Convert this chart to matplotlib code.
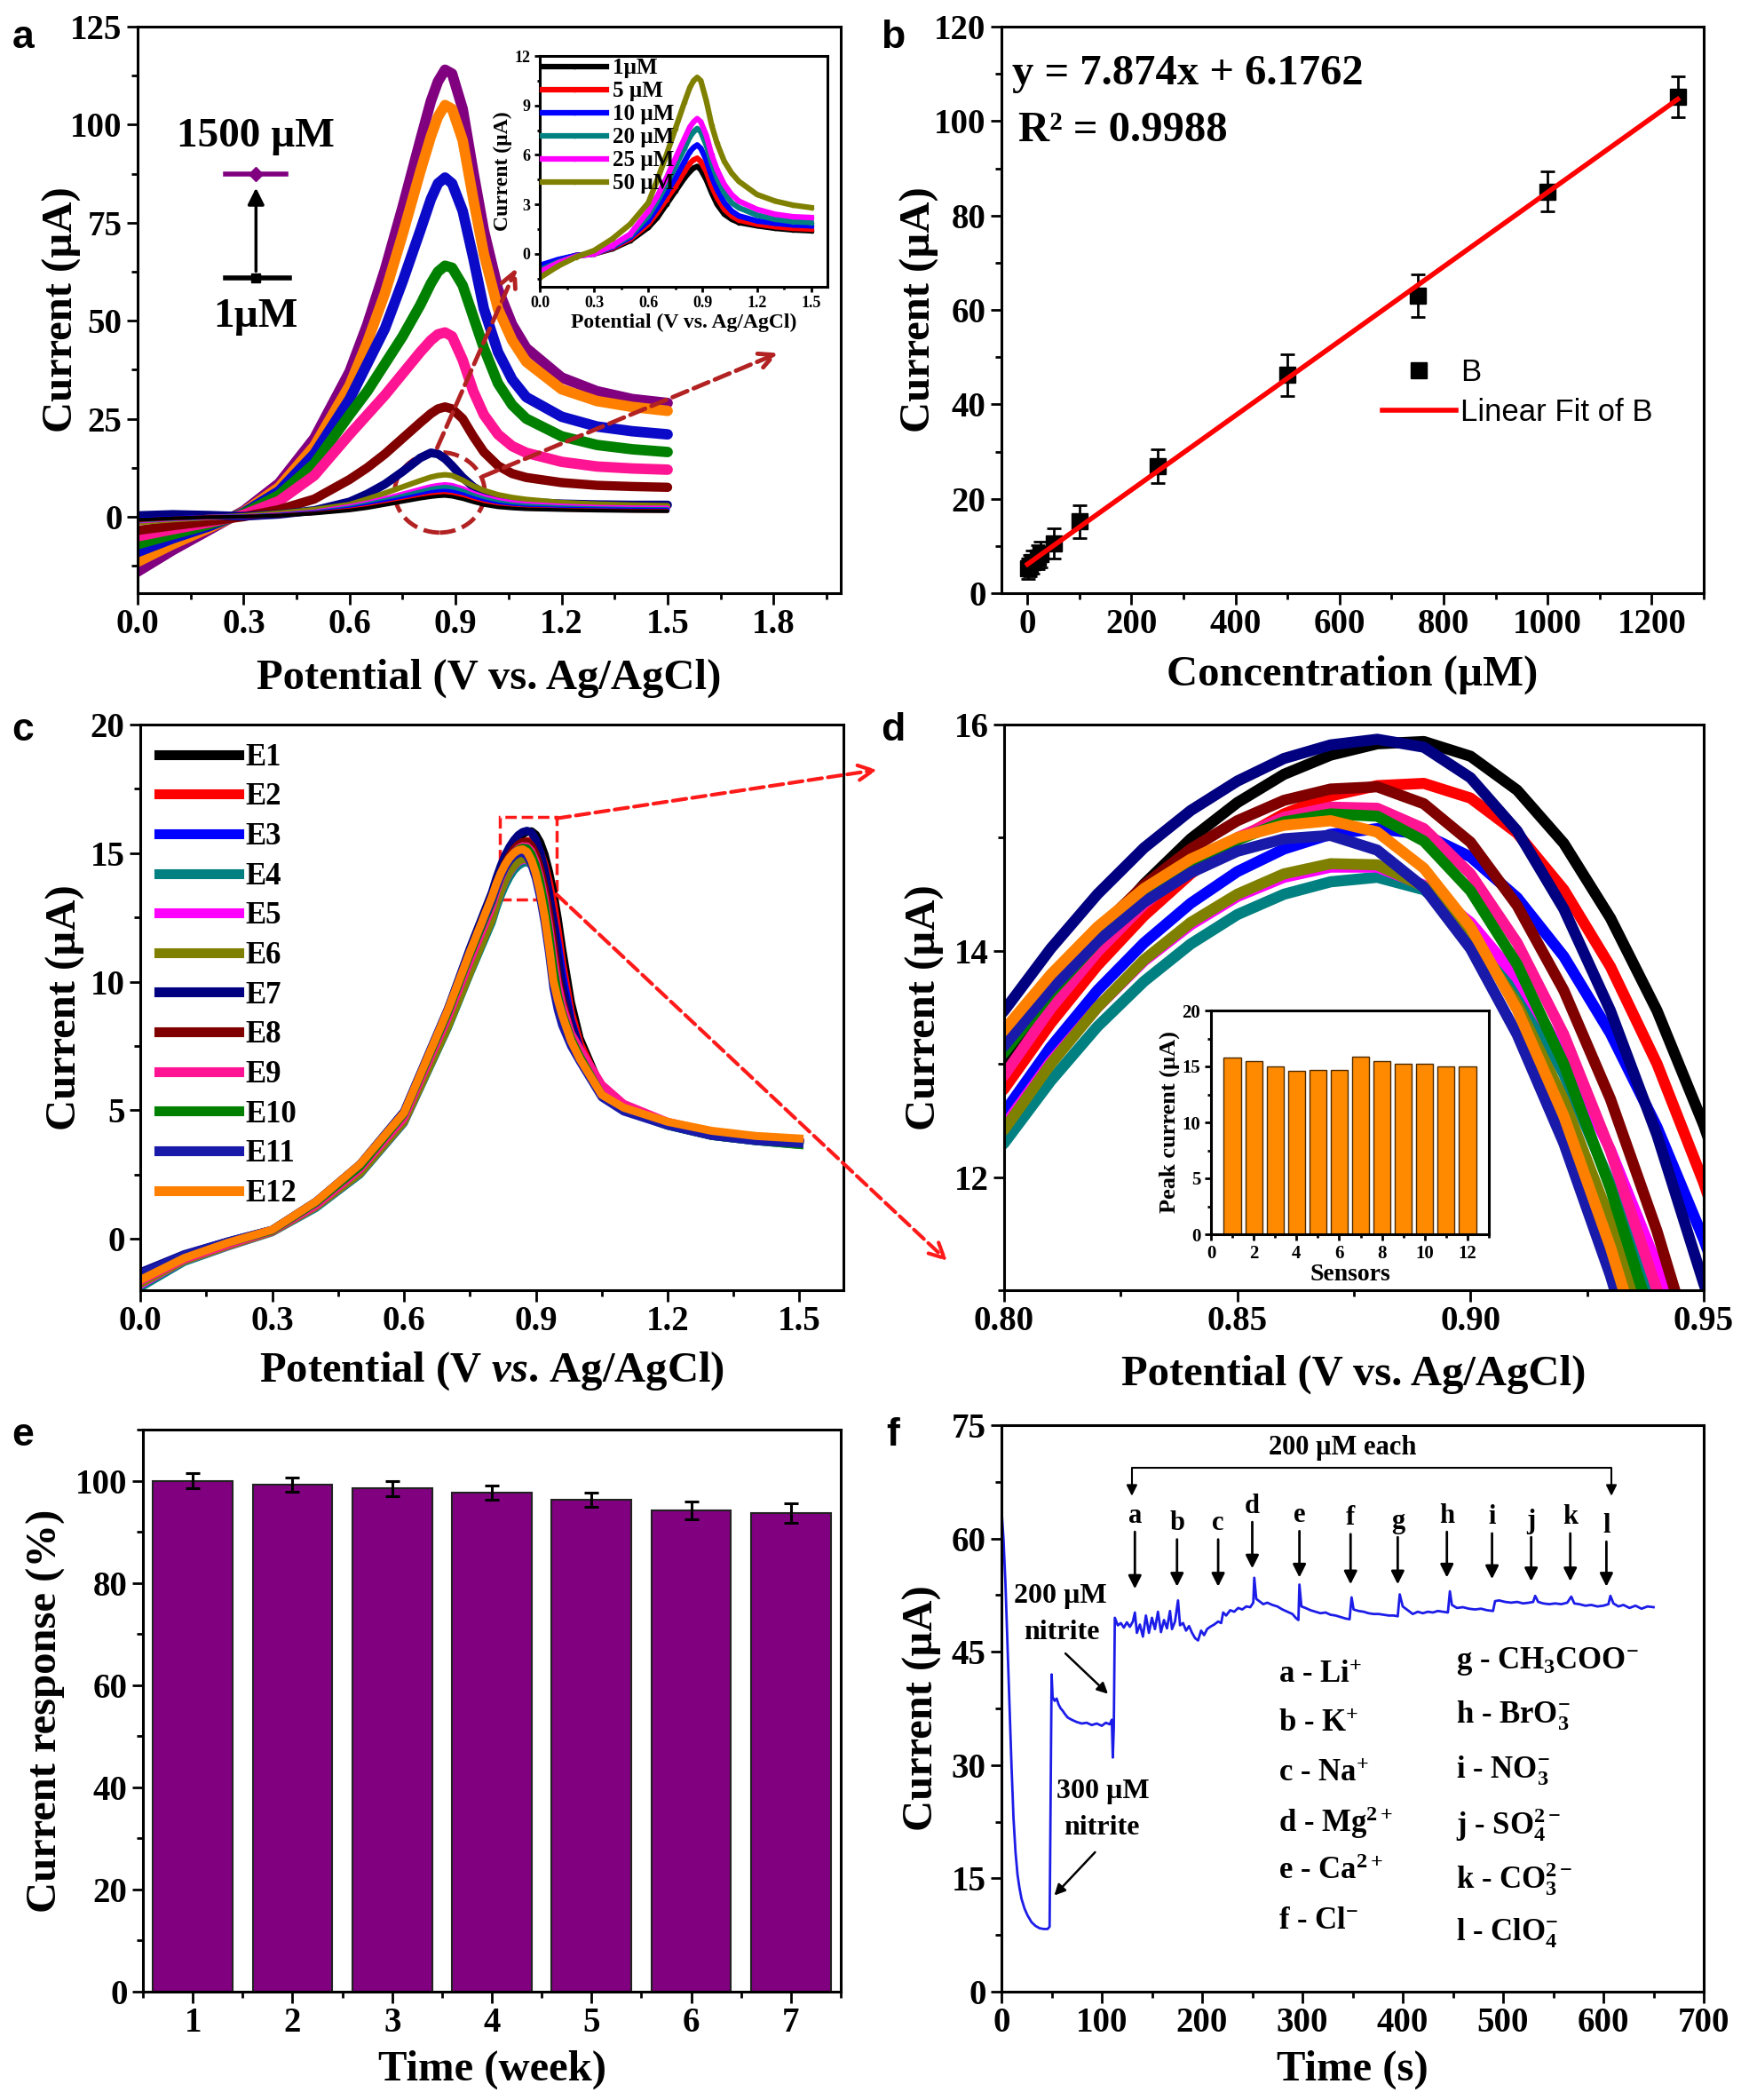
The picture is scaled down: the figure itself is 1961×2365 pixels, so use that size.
import matplotlib
matplotlib.use("Agg")
import matplotlib.pyplot as plt
import numpy as np
from matplotlib.patches import Ellipse, Rectangle, ConnectionPatch
from matplotlib.ticker import MultipleLocator, FormatStrFormatter

plt.rcParams['font.family'] = ['Liberation Serif', 'DejaVu Serif']
plt.rcParams['font.weight'] = 'bold'
plt.rcParams['axes.labelweight'] = 'bold'
plt.rcParams['mathtext.fontset'] = 'custom'
plt.rcParams['mathtext.rm'] = 'Liberation Serif:bold'
plt.rcParams['mathtext.it'] = 'Liberation Serif:bold:italic'
plt.rcParams['mathtext.bf'] = 'Liberation Serif:bold'
plt.rcParams['axes.linewidth'] = 2.2
plt.rcParams['lines.solid_joinstyle'] = 'round'

# ---------------- panel a : DPV at increasing nitrite concentration ----------------
potential_a = [0.0, 0.1, 0.2, 0.3, 0.4, 0.5, 0.6, 0.65, 0.7, 0.75, 0.8, 0.83, 0.85, 0.87,
               0.89, 0.92, 0.95, 0.98, 1.02, 1.06, 1.1, 1.2, 1.3, 1.4, 1.5]
cur_1uM = [-0.8, -0.4, -0.1, 0.0, 0.3, 0.8, 1.6, 2.2, 3.0, 3.8, 4.6, 5.0, 5.2, 5.3, 5.1, 4.5, 3.7, 3.0, 2.4, 2.1, 1.9, 1.7, 1.55, 1.45, 1.4]
cur_5uM = [-0.9, -0.45, -0.1, 0.0, 0.35, 0.9, 1.8, 2.5, 3.3, 4.1, 5.0, 5.5, 5.7, 5.8, 5.6, 5.0, 4.1, 3.4, 2.7, 2.3, 2.05, 1.8, 1.65, 1.55, 1.5]
cur_10uM = [-0.7, -0.35, -0.1, 0.0, 0.4, 1.0, 2.0, 2.8, 3.7, 4.6, 5.6, 6.2, 6.45, 6.6, 6.4, 5.7, 4.7, 3.9, 3.1, 2.6, 2.3, 2.0, 1.85, 1.75, 1.7]
cur_20uM = [-1.0, -0.5, -0.15, 0.0, 0.45, 1.1, 2.3, 3.2, 4.2, 5.3, 6.4, 7.1, 7.4, 7.6, 7.4, 6.6, 5.5, 4.6, 3.7, 3.1, 2.8, 2.35, 2.1, 1.95, 1.9]
cur_25uM = [-1.1, -0.55, -0.15, 0.0, 0.5, 1.2, 2.6, 3.5, 4.6, 5.8, 7.0, 7.7, 8.0, 8.2, 8.0, 7.2, 6.0, 5.1, 4.2, 3.6, 3.2, 2.7, 2.4, 2.25, 2.2]
cur_50uM = [-1.45, -0.75, -0.2, 0.2, 0.9, 1.8, 3.1, 4.5, 6.0, 7.6, 9.2, 10.1, 10.5, 10.7, 10.5, 9.3, 7.8, 6.7, 5.6, 4.9, 4.4, 3.6, 3.2, 2.95, 2.8]
cur_100uM = [0.3, 0.6, 0.4, 0.1, 0.6, 1.6, 3.8, 5.8, 8.3, 11.5, 15.0, 16.3, 16.0, 14.8, 13.0, 10.0, 7.6, 6.0, 4.8, 4.1, 3.7, 3.3, 3.1, 3.0, 3.0]
cur_250uM = [-3.5, -2.3, -1.2, 0.0, 1.8, 4.5, 9.5, 12.5, 16, 20, 24, 26.3, 27.5, 28, 27.5, 25, 20.5, 16.5, 13, 11, 10, 8.7, 8.0, 7.7, 7.5]
cur_500uM = [-5, -3.2, -1.5, 0.5, 4, 10.5, 21, 26, 31, 36.5, 42, 45, 46.5, 47, 46, 40, 32, 26, 21, 18, 16.3, 14, 12.8, 12.3, 12]
cur_750uM = [-7, -4.5, -2, 0.8, 5.5, 13.5, 26, 32, 39, 46, 54, 59.5, 62.5, 64, 63.5, 59, 51, 43, 34, 28.5, 25, 20.5, 18.3, 17.2, 16.5]
cur_1000uM = [-9, -5.5, -2.5, 1.0, 6.5, 16, 30, 39, 48, 60, 73, 81, 85, 86.5, 85, 78, 66, 53, 42, 35, 30.5, 25.5, 23, 21.8, 21]
cur_1250uM = [-11.5, -7, -3, 1.2, 7.5, 18, 33.5, 44.5, 57, 72, 88, 97, 102, 105, 104, 96, 81, 67, 53, 45, 39.5, 32.5, 29.5, 28, 27]
cur_1500uM = [-14, -8.5, -3.5, 1.5, 8.5, 20, 37, 49, 63, 79, 96, 106, 111, 114, 113, 104, 88, 73, 58, 49, 43, 35.5, 32, 30, 29]

inset_labels_a = ['1µM', '5 µM', '10 µM', '20 µM', '25 µM', '50 µM']

# ---------------- panel b : calibration ----------------
conc_b = [1, 5, 10, 20, 25, 50, 100, 250, 500, 750, 1000, 1250]
peak_b = [5.2, 5.8, 6.6, 7.6, 8.2, 10.6, 15.2, 26.9, 46.2, 63.0, 85.1, 105.2]
err_b = [2.2, 2.3, 2.4, 2.6, 2.7, 3.2, 3.5, 3.6, 4.4, 4.5, 4.2, 4.3]

# ---------------- panels c/d : 12 electrodes ----------------
potential_c = [0.0, 0.1, 0.2, 0.3, 0.4, 0.5, 0.6, 0.7, 0.75,
               0.80, 0.81, 0.82, 0.83, 0.84, 0.85, 0.86, 0.87, 0.88, 0.89, 0.90,
               0.91, 0.92, 0.93, 0.94, 0.95, 0.96,
               0.98, 1.0, 1.05, 1.1, 1.2, 1.3, 1.4, 1.5]
cur_E1 = [-1.5, -0.75, -0.2, 0.3, 1.35, 2.75, 4.8, 8.6, 10.8,
          12.95, 13.57, 14.12, 14.59, 14.99, 15.31, 15.56, 15.73, 15.83, 15.85, 15.72, 15.42, 14.95, 14.29, 13.47, 12.46, 11.28,
          9.2, 7.8, 5.8, 5.1, 4.5, 4.1, 3.9, 3.75]
cur_E2 = [-1.6, -0.8, -0.22, 0.3, 1.3, 2.7, 4.75, 8.55, 10.7,
          12.78, 13.36, 13.87, 14.31, 14.68, 14.98, 15.21, 15.37, 15.46, 15.48, 15.35, 15.04, 14.54, 13.86, 13.00, 11.95, 10.72,
          8.8, 7.6, 5.8, 5.1, 4.5, 4.1, 3.9, 3.75]
cur_E3 = [-1.7, -0.85, -0.25, 0.28, 1.25, 2.6, 4.65, 8.4, 10.5,
          12.57, 13.15, 13.65, 14.07, 14.42, 14.70, 14.90, 15.03, 15.08, 15.03, 14.83, 14.47, 13.95, 13.27, 12.44, 11.45, 10.30,
          8.5, 7.4, 5.7, 5.0, 4.45, 4.05, 3.85, 3.7]
cur_E4 = [-1.9, -0.9, -0.3, 0.25, 1.2, 2.5, 4.5, 8.2, 10.3,
          12.30, 12.85, 13.33, 13.73, 14.06, 14.32, 14.50, 14.61, 14.65, 14.54, 14.22, 13.67, 12.91, 11.94, 10.74, 9.6, 8.8,
          7.8, 7.1, 5.6, 5.0, 4.4, 4.0, 3.8, 3.65]
cur_E5 = [-1.8, -0.85, -0.28, 0.27, 1.25, 2.55, 4.55, 8.3, 10.4,
          12.45, 13.02, 13.50, 13.91, 14.23, 14.48, 14.65, 14.74, 14.74, 14.58, 14.25, 13.76, 13.08, 12.24, 11.22, 10.04, 9.1,
          8.0, 7.3, 5.9, 5.2, 4.5, 4.1, 3.9, 3.75]
cur_E6 = [-1.75, -0.85, -0.27, 0.27, 1.25, 2.55, 4.55, 8.25, 10.35,
          12.42, 13.00, 13.50, 13.92, 14.25, 14.50, 14.68, 14.77, 14.76, 14.57, 14.15, 13.53, 12.68, 11.61, 10.33, 9.4, 8.7,
          7.7, 7.0, 5.6, 5.0, 4.45, 4.1, 3.85, 3.7]
cur_E7 = [-1.3, -0.6, -0.1, 0.35, 1.45, 2.9, 4.95, 8.95, 11.3,
          13.47, 14.02, 14.50, 14.91, 15.24, 15.50, 15.70, 15.82, 15.87, 15.80, 15.53, 15.06, 14.37, 13.47, 12.37, 11.06, 9.9,
          8.4, 7.4, 5.8, 5.1, 4.5, 4.1, 3.9, 3.75]
cur_E8 = [-1.5, -0.7, -0.15, 0.32, 1.4, 2.8, 4.85, 8.8, 11.1,
          13.15, 13.70, 14.18, 14.58, 14.90, 15.15, 15.33, 15.43, 15.45, 15.30, 14.96, 14.40, 13.65, 12.69, 11.52, 10.15, 9.3,
          8.0, 7.3, 5.8, 5.1, 4.5, 4.1, 3.85, 3.7]
cur_E9 = [-1.65, -0.8, -0.22, 0.3, 1.3, 2.7, 4.7, 8.6, 10.8,
          12.90, 13.49, 13.99, 14.41, 14.75, 15.00, 15.18, 15.27, 15.26, 15.08, 14.68, 14.07, 13.26, 12.23, 11.00, 9.9, 9.1,
          8.0, 7.4, 6.0, 5.25, 4.55, 4.15, 3.9, 3.75]
cur_E10 = [-1.45, -0.7, -0.15, 0.32, 1.4, 2.8, 4.85, 8.8, 11.05,
           13.10, 13.63, 14.08, 14.46, 14.76, 14.98, 15.14, 15.21, 15.19, 14.97, 14.53, 13.88, 13.00, 11.90, 10.58, 9.5, 8.8,
           7.8, 7.1, 5.6, 5.0, 4.4, 4.0, 3.8, 3.65]
cur_E11 = [-1.35, -0.62, -0.1, 0.35, 1.45, 2.9, 4.95, 8.95, 11.2,
           13.16, 13.66, 14.08, 14.43, 14.69, 14.88, 14.99, 15.02, 14.89, 14.56, 14.02, 13.26, 12.30, 11.13, 9.75, 8.9, 8.3,
           7.5, 6.9, 5.5, 4.95, 4.4, 4.0, 3.8, 3.7]
cur_E12 = [-1.6, -0.75, -0.15, 0.35, 1.45, 2.9, 4.9, 8.9, 11.15,
           13.30, 13.79, 14.21, 14.55, 14.81, 15.00, 15.11, 15.15, 15.05, 14.73, 14.21, 13.48, 12.54, 11.38, 10.03, 9.3, 8.7,
           7.7, 7.0, 5.6, 5.1, 4.55, 4.2, 4.0, 3.9]
electrode_names = ['E1', 'E2', 'E3', 'E4', 'E5', 'E6', 'E7', 'E8', 'E9', 'E10', 'E11', 'E12']
sensor_ids = [1, 2, 3, 4, 5, 6, 7, 8, 9, 10, 11, 12]
sensor_peak = [15.8, 15.5, 15.0, 14.6, 14.7, 14.7, 15.85, 15.45, 15.2, 15.2, 15.0, 15.0]

# ---------------- panel e : stability ----------------
weeks_e = [1, 2, 3, 4, 5, 6, 7]
response_e = [100.0, 99.3, 98.5, 97.7, 96.2, 94.2, 93.7]
response_err_e = [1.55, 1.4, 1.5, 1.4, 1.4, 1.7, 1.95]

# ---------------- panel f : amperometric interference ----------------
time_f = [0, 2, 4, 6, 8, 10, 12, 14, 16, 18, 20, 23, 26, 30, 34, 38, 42, 46, 48,
          49, 50, 51, 53, 55, 57, 59, 61, 63, 66, 70, 75, 80, 85, 90, 95, 100, 104, 108, 110, 111, 112,
          113, 116, 119, 122, 125, 128, 131, 133, 135, 138, 141, 144, 147, 150, 153, 156, 159, 162, 165,
          168, 170, 173, 176, 178, 181, 184, 187, 190, 193, 196, 199, 202, 205, 208, 212, 216, 219, 221,
          224, 228, 232, 236, 240, 244, 248, 251, 252, 254, 257, 261, 265, 270, 275, 280, 285, 290, 294,
          296, 297, 299, 303, 308, 313, 318, 323, 328, 333, 338, 343, 347, 349, 351, 356, 361, 366, 371,
          376, 381, 386, 391, 395, 397, 400, 405, 410, 415, 420, 425, 430, 435, 440, 445, 447, 449, 454,
          460, 466, 472, 478, 484, 490, 492, 496, 502, 508, 514, 520, 526, 530, 532, 535, 540, 546, 552,
          558, 564, 568, 571, 576, 582, 588, 594, 600, 605, 607, 610, 615, 620, 626, 632, 638, 644, 650]
current_f = [64.0, 60.0, 54.0, 46.0, 38.0, 30.0, 23.0, 18.5, 15.5, 13.7, 12.3, 11.0, 10.1, 9.2, 8.7, 8.4, 8.3, 8.3, 8.6,
             25.0, 42.0, 39.0, 38.5, 38.8, 38.0, 37.5, 37.2, 36.8, 36.3, 36.0, 35.7, 35.5, 35.6, 35.3, 35.5, 35.2, 35.6, 35.4, 36.0, 31.0, 35.0,
             49.5, 48.5, 48.8, 48.2, 48.9, 48.3, 49.0, 50.2, 47.5, 48.6, 47.0, 49.8, 47.5, 49.5, 48.0, 50.3, 47.6, 49.2, 48.1,
             50.4, 48.0, 49.0, 51.8, 48.5, 48.8, 47.8, 48.4, 47.5, 46.8, 46.5, 47.8, 47.2, 48.0, 48.3, 48.6, 49.0, 48.8, 50.2,
             49.8, 50.5, 50.3, 50.8, 50.6, 51.0, 50.9, 51.5, 54.8, 52.0, 51.7, 51.3, 51.5, 51.2, 51.0, 50.6, 50.3, 50.0, 49.4,
             49.2, 53.9, 51.0, 50.8, 50.5, 50.3, 50.1, 50.2, 49.9, 49.8, 49.6, 49.4, 49.3, 52.2, 50.6, 50.4, 50.3, 50.1, 50.0,
             50.0, 49.9, 49.8, 49.8, 49.7, 52.6, 51.0, 50.5, 50.0, 50.3, 50.1, 50.3, 50.2, 50.4, 50.3, 50.2, 53.0, 51.2, 50.8,
             50.9, 50.7, 50.6, 50.7, 50.5, 50.4, 51.7, 51.8, 51.6, 51.5, 51.6, 51.4, 51.5, 51.6, 52.4, 51.6, 51.4, 51.3, 51.4,
             51.3, 51.5, 52.3, 51.4, 51.3, 51.1, 51.2, 51.0, 51.1, 51.3, 52.4, 51.4, 51.0, 51.2, 50.8, 51.1, 50.7, 51.0, 50.9]
inject_letters = ['a', 'b', 'c', 'd', 'e', 'f', 'g', 'h', 'i', 'j', 'k', 'l']
inject_times = [133, 175, 216, 250, 297, 348, 395, 444, 489, 528, 567, 603]
ions_left = ['a - Li$^{+}$', 'b - K$^{+}$', 'c - Na$^{+}$', 'd - Mg$^{2+}$', 'e - Ca$^{2+}$', 'f - Cl$^{-}$']
ions_right = ['g - CH$_{3}$COO$^{-}$', 'h - BrO$_{3}^{-}$', 'i - NO$_{3}^{-}$',
              'j - SO$_{4}^{2-}$', 'k - CO$_{3}^{2-}$', 'l - ClO$_{4}^{-}$']

W, H = 1961.0, 2365.0
fig = plt.figure(figsize=(W / 100, H / 100), dpi=100)


def axes_px(left, right, top, bottom):
    return fig.add_axes([left / W, 1 - bottom / H, (right - left) / W, (bottom - top) / H])


def style(ax, xmaj, xmin, ymaj, ymin, size=28, length=9):
    ax.xaxis.set_major_locator(MultipleLocator(xmaj))
    ax.xaxis.set_minor_locator(MultipleLocator(xmin))
    ax.yaxis.set_major_locator(MultipleLocator(ymaj))
    ax.yaxis.set_minor_locator(MultipleLocator(ymin))
    ax.tick_params(which='major', direction='out', length=length, width=2, labelsize=size)
    ax.tick_params(which='minor', direction='out', length=length * 0.55, width=2)


def panel_letter(x, y, s):
    fig.text(x / W, 1 - y / H, s, family='Liberation Sans', weight='bold', size=32, ha='center', va='center')


# ---- a ----
ax_a = axes_px(155, 947, 30, 668)
curves_a = [cur_1500uM, cur_1250uM, cur_1000uM, cur_750uM, cur_500uM, cur_250uM, cur_100uM,
            cur_50uM, cur_25uM, cur_20uM, cur_10uM, cur_5uM, cur_1uM]
colors_a = ['#800080', '#FF8000', '#0A0AC8', '#008000', '#FF1493', '#800000', '#000080',
            '#808000', '#FF00FF', '#008080', '#0000FF', '#FF0000', '#000000']
widths_a = [8.5, 8.5, 8.5, 8.5, 8.5, 7.5, 7, 4.5, 4, 3.5, 3.5, 3, 3]
for cur, col, lw in zip(curves_a, colors_a, widths_a):
    ax_a.plot(potential_a, cur, color=col, lw=lw, solid_capstyle='round')
ax_a.set_xlim(0, 1.99)
ax_a.set_ylim(-19.5, 125)
style(ax_a, 0.3, 0.15, 25, 12.5)
ax_a.xaxis.set_major_formatter(FormatStrFormatter('%.1f'))
ax_a.set_xlabel('Potential (V vs. Ag/AgCl)', size=35, labelpad=14)
ax_a.set_ylabel('Current (µA)', size=35, labelpad=-9)
ax_a.text(0.335, 97, '1500 µM', size=34, ha='center', va='center')
ax_a.plot([0.25, 0.42], [87.5, 87.5], color='#800080', lw=4)
ax_a.plot([0.335], [87.5], marker='D', color='#800080', ms=8)
ax_a.plot([0.25, 0.43], [61, 61], color='k', lw=4)
ax_a.plot([0.335], [61], marker='s', color='k', ms=7)
ax_a.annotate('', xy=(0.335, 84.5), xytext=(0.335, 62),
              arrowprops=dict(arrowstyle='-|>', color='k', lw=2.5, mutation_scale=28))
ax_a.text(0.335, 51, '1µM', size=34, ha='center', va='center')
dark_red = '#B22222'
ax_a.add_patch(Ellipse((0.855, 6.2), 0.255, 20.5, fill=False, ls='--', ec=dark_red, lw=3.5))
ax_a.annotate('', xy=(1.075, 64), xytext=(0.845, 17),
              arrowprops=dict(arrowstyle='->', ls='--', color=dark_red, lw=3.5, mutation_scale=30))
ax_a.annotate('', xy=(1.82, 42), xytext=(0.97, 10),
              arrowprops=dict(arrowstyle='->', ls='--', color=dark_red, lw=3.5, mutation_scale=30))

ins_a = axes_px(608, 932, 63, 323)
for cur, col, lab in zip([cur_1uM, cur_5uM, cur_10uM, cur_20uM, cur_25uM, cur_50uM],
                         ['#000000', '#FF0000', '#0000FF', '#008080', '#FF00FF', '#808000'],
                         inset_labels_a):
    ins_a.plot(potential_a, cur, color=col, lw=4.5, marker='o', ms=3, label=lab)
ins_a.set_xlim(0, 1.59)
ins_a.set_ylim(-2, 12)
style(ins_a, 0.3, 0.15, 3, 1.5, size=13, length=4)
ins_a.xaxis.set_major_formatter(FormatStrFormatter('%.1f'))
ins_a.set_xlabel('Potential (V vs. Ag/AgCl)', size=17, labelpad=2)
ins_a.set_ylabel('Current (µA)', size=17, labelpad=2)
ins_a.legend(loc='upper left', frameon=False, fontsize=18, handlelength=2.9, labelspacing=0.12,
             handletextpad=0.3, borderaxespad=0.05, borderpad=0.05)

# ---- b ----
ax_b = axes_px(1128, 1919, 30, 668)
slope_b, icpt_b = np.polyfit(conc_b, peak_b, 1)
fit_x = np.array([0, conc_b[-1]])
ax_b.errorbar(conc_b, peak_b, yerr=err_b, fmt='none', ecolor='k', elinewidth=2, capsize=6, capthick=2)
ax_b.plot(conc_b, peak_b, 's', color='k', ms=13, label='B', ls='none')
ax_b.plot(fit_x, slope_b * fit_x + icpt_b, color='#FF0000', lw=4, label='Linear Fit of B')
ax_b.set_xlim(-50, 1300)
ax_b.set_ylim(0, 120)
style(ax_b, 200, 100, 20, 10)
ax_b.set_xlabel('Concentration (µM)', size=35, labelpad=11)
ax_b.set_ylabel('Current (µA)', size=35, labelpad=-4)
ax_b.text(-30, 110, 'y = 7.874x + 6.1762', size=35, ha='left', va='center')
ax_b.text(-17, 98, 'R² = 0.9988', size=35, ha='left', va='center')
ax_b.legend(loc='upper left', bbox_to_anchor=(0.542, 0.415), frameon=False,
            prop={'family': 'Liberation Sans', 'weight': 'normal', 'size': 25},
            handlelength=2.4, handletextpad=0.15, labelspacing=0.35, borderaxespad=0, borderpad=0)

# ---- c ----
ax_c = axes_px(158, 950, 816, 1453)
curves_c = [cur_E1, cur_E2, cur_E3, cur_E4, cur_E5, cur_E6, cur_E7, cur_E8, cur_E9, cur_E10, cur_E11, cur_E12]
colors_c = ['#000000', '#FF0000', '#0000FF', '#008080', '#FF00FF', '#808000', '#000080', '#800000',
            '#FF1493', '#008000', '#1A1AAA', '#FF8000']
for cur, col, name in zip(curves_c, colors_c, electrode_names):
    ax_c.plot(potential_c, cur, color=col, lw=6.5, label=name)
ax_c.set_xlim(0, 1.6)
ax_c.set_ylim(-2, 20)
style(ax_c, 0.3, 0.15, 5, 2.5)
ax_c.xaxis.set_major_formatter(FormatStrFormatter('%.1f'))
ax_c.set_xlabel(r'Potential (V $\mathit{vs}$. Ag/AgCl)', size=35, labelpad=9)
ax_c.set_ylabel('Current (µA)', size=35, labelpad=4)
leg_c = ax_c.legend(loc='upper left', frameon=False, fontsize=25, handlelength=2.6, labelspacing=0.335,
                    handletextpad=0.2, borderaxespad=0.2)
for ln in leg_c.get_lines():
    ln.set_linewidth(8)
red = '#FF1A1A'
ax_c.add_patch(Rectangle((0.8175, 13.2), 0.129, 3.2, fill=False, ls='--', ec=red, lw=2.5))
for ya, xb, yb in [(16.35, 988, H - 867), (13.4, 1067, H - 1420)]:
    con = ConnectionPatch(xyA=(0.947, ya), coordsA=ax_c.transData, xyB=(xb, yb), coordsB='figure pixels',
                          arrowstyle='->', ls='--', color=red, lw=3, mutation_scale=30)
    fig.add_artist(con)

# ---- d ----
ax_d = axes_px(1131, 1919, 816, 1453)
for cur, col in zip(curves_c, colors_c):
    ax_d.plot(potential_c, cur, color=col, lw=9)
ax_d.set_xlim(0.8, 0.95)
ax_d.set_ylim(11, 16)
style(ax_d, 0.05, 0.025, 2, 1)
ax_d.xaxis.set_major_formatter(FormatStrFormatter('%.2f'))
ax_d.set_xlabel('Potential (V vs. Ag/AgCl)', size=35, labelpad=13)
ax_d.set_ylabel('Current (µA)', size=35, labelpad=8)

ins_d = axes_px(1364, 1677, 1138, 1390)
ins_d.bar(sensor_ids, sensor_peak, width=0.8, color='#FF8A00', edgecolor='#4D2A00', lw=1)
ins_d.set_xlim(0, 13)
ins_d.set_ylim(0, 20)
style(ins_d, 2, 1, 5, 2.5, size=15, length=5)
ins_d.set_xlabel('Sensors', size=20, labelpad=1)
ins_d.set_ylabel('Peak current (µA)', size=19, labelpad=2)

# ---- e ----
ax_e = axes_px(161, 947, 1610, 2243)
ax_e.bar(weeks_e, response_e, width=0.8, color='#800080', edgecolor='#222222', lw=1.5,
         yerr=response_err_e, capsize=6, error_kw=dict(elinewidth=2.2, capthick=2.2, ecolor='k'))
ax_e.set_xlim(0.5, 7.5)
ax_e.set_ylim(0, 110)
style(ax_e, 1, 0.5, 20, 10)
ax_e.set_xlabel('Time (week)', size=35, labelpad=8)
ax_e.set_ylabel('Current response (%)', size=35, labelpad=8)

# ---- f ----
ax_f = axes_px(1128, 1919, 1605, 2243)
ax_f.plot(time_f, current_f, color='#1C1CE8', lw=2)
ax_f.set_xlim(0, 700)
ax_f.set_ylim(0, 75)
style(ax_f, 100, 50, 15, 7.5)
ax_f.set_xlabel('Time (s)', size=35, labelpad=8)
ax_f.set_ylabel('Current (µA)', size=35, labelpad=8)
ax_f.plot([130, 130, 608, 608], [66.5, 69.4, 69.4, 66.5], color='k', lw=1.5)
for tx in (130, 608):
    ax_f.annotate('', xy=(tx, 65.3), xytext=(tx, 67.5),
                  arrowprops=dict(arrowstyle='-|>', color='k', lw=1.5, mutation_scale=18))
ax_f.text(340, 72, '200 µM each', size=22, ha='center', va='center')
letter_y = [63.0, 62.0, 62.0, 64.3, 63.1, 62.7, 62.3, 63.0, 62.8, 62.3, 62.8, 61.7]
head_y = [53.0, 53.3, 53.3, 55.7, 54.5, 53.6, 53.6, 54.5, 54.3, 54.0, 54.0, 53.3]
for lab, tx, ly, hy in zip(inject_letters, inject_times, letter_y, head_y):
    ax_f.text(tx, ly, lab, size=22, ha='center', va='center')
    ax_f.annotate('', xy=(tx, hy), xytext=(tx, ly - 1.8),
                  arrowprops=dict(arrowstyle='-|>', color='k', lw=2, mutation_scale=22))
ax_f.text(59, 52.4, '200 µM', size=23, ha='center', va='center')
ax_f.text(60, 47.6, 'nitrite', size=23, ha='center', va='center')
ax_f.annotate('', xy=(108, 39.2), xytext=(62, 45.0),
              arrowprops=dict(arrowstyle='-|>', color='k', lw=1.8, mutation_scale=18))
ax_f.text(101, 26.5, '300 µM', size=23, ha='center', va='center')
ax_f.text(100, 21.7, 'nitrite', size=23, ha='center', va='center')
ax_f.annotate('', xy=(51, 12.5), xytext=(95, 18.7),
              arrowprops=dict(arrowstyle='-|>', color='k', lw=1.8, mutation_scale=18))
for k, s in enumerate(ions_left):
    ax_f.text(276, 41.9 - k * 6.5, s, size=25, ha='left', va='center')
for k, s in enumerate(ions_right):
    ax_f.text(453, 43.7 - k * 7.2, s, size=25, ha='left', va='center')

panel_letter(26, 42, 'a')
panel_letter(1006, 42, 'b')
panel_letter(26, 822, 'c')
panel_letter(1006, 822, 'd')
panel_letter(26, 1617, 'e')
panel_letter(1006, 1617, 'f')

fig.savefig('out.png', dpi=100)
